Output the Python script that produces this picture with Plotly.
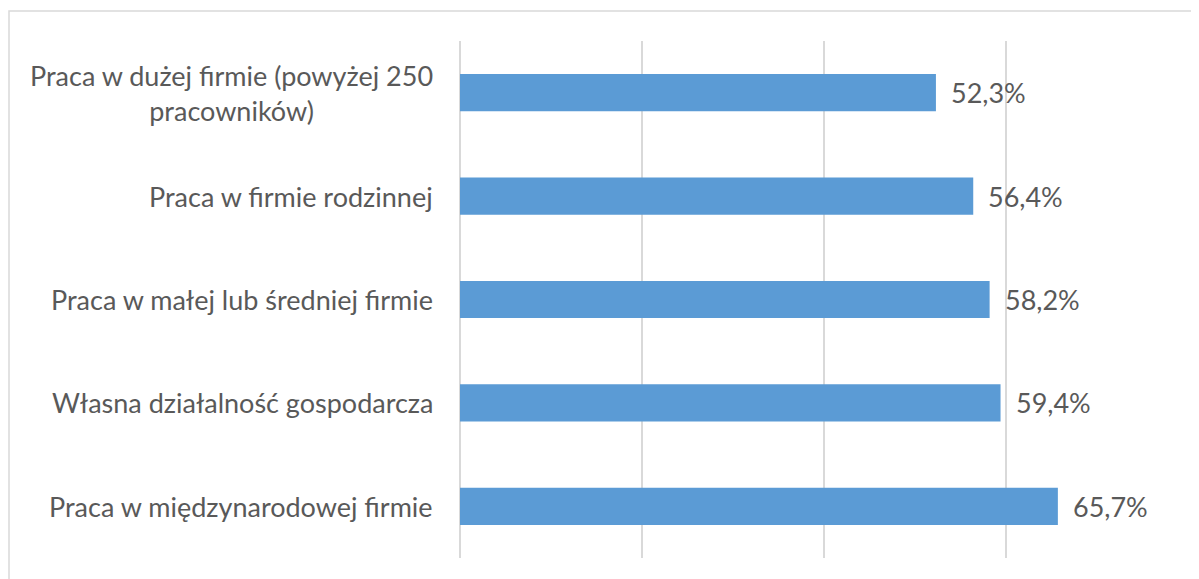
import plotly.graph_objects as go

categories = [
    "Praca w dużej firmie (powyżej 250<br>pracowników)",
    "Praca w firmie rodzinnej",
    "Praca w małej lub średniej firmie",
    "Własna działalność gospodarcza",
    "Praca w międzynarodowej firmie",
]
values = [52.3, 56.4, 58.2, 59.4, 65.7]

# page body has an 8px margin, so the figure is sized to the remaining window
W, H = 1191, 571
ml, mr, mt, mb = 452, 11, 33, 21
pw, ph = W - ml - mr, H - mt - mb

FONT = "Lato"
TXT = "#595959"
FS = 27

fig = go.Figure(go.Bar(
    x=values,
    y=list(range(len(categories))),
    orientation="h",
    marker=dict(color="#5B9BD5", line=dict(width=0)),
    hoverinfo="skip",
))

for i, (c, v) in enumerate(zip(categories, values)):
    fig.add_annotation(
        x=0, xref="paper", y=i, yref="y",
        text=c, showarrow=False, xanchor="right", yanchor="middle",
        align="center", xshift=-25,
        font=dict(family=FONT, size=FS, color=TXT),
    )
    fig.add_annotation(
        x=v, xref="x", y=i, yref="y",
        text=f"{v:.1f}%".replace(".", ","), showarrow=False,
        xanchor="left", yanchor="middle", xshift=13,
        font=dict(family=FONT, size=FS, color=TXT),
    )

fig.add_shape(
    type="rect", xref="paper", yref="paper",
    x0=(1 - ml) / pw, x1=(W + 20 - ml) / pw,
    y0=-(mb + 20) / ph, y1=1 + (mt - 3) / ph,
    line=dict(color="#D9D9D9", width=1.5), fillcolor="rgba(0,0,0,0)",
    layer="below",
)

fig.update_layout(
    width=W, height=H,
    margin=dict(l=ml, r=mr, t=mt, b=mb),
    paper_bgcolor="white", plot_bgcolor="white",
    bargap=0.64,
    showlegend=False,
    xaxis=dict(range=[0, 80], dtick=20, showgrid=True, gridcolor="#D9D9D9",
               gridwidth=1.5, zeroline=True, zerolinecolor="#D9D9D9", zerolinewidth=1.5,
               showticklabels=False, showline=False, fixedrange=True),
    yaxis=dict(range=[4.5, -0.5], showticklabels=False, showgrid=False,
               zeroline=False, showline=False, fixedrange=True),
)

fig.write_html("out.html")
